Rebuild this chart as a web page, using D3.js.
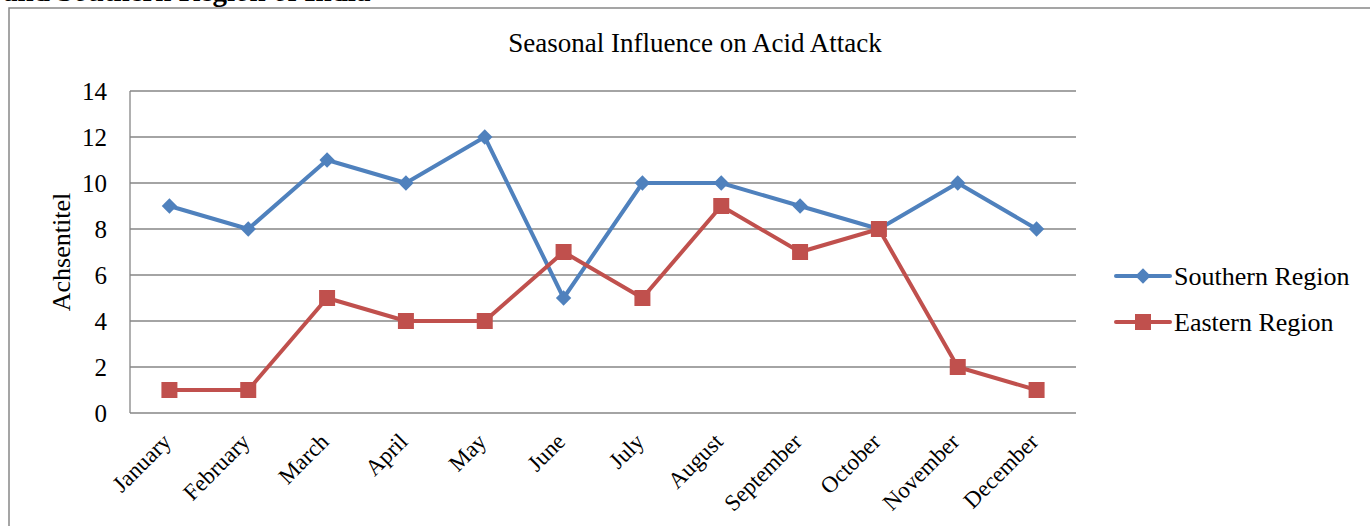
<!DOCTYPE html>
<html><head><meta charset="utf-8">
<script src="https://cdn.jsdelivr.net/npm/d3@7"></script>
<style>body{margin:0;background:#fff}svg{display:block}text{font-family:"Liberation Serif","Times New Roman",serif;fill:#000}</style>
</head><body>
<svg id="c" width="1370" height="526"></svg>
<script>
const months = ["January","February","March","April","May","June","July","August","September","October","November","December"];
const southern = [9,8,11,10,12,5,10,10,9,8,10,8];
const eastern = [1,1,5,4,4,7,5,9,7,8,2,1];
const yTicks = [0,2,4,6,8,10,12,14];
const seriesNames = ["Southern Region","Eastern Region"];
const colors = ["#4F81BD","#C0504D"];

const svg = d3.select("#c");
const L = 130, R = 1076, T = 91, B = 413;

svg.append("text").attr("x",3).attr("y",1).attr("font-size",29).attr("font-weight","bold")
  .text("and Southern Region of India");
svg.append("rect").attr("x",9).attr("y",8).attr("width",1400).attr("height",600)
  .attr("fill","#fff").attr("stroke","#888").attr("stroke-width",1.5);

const x = d3.scaleBand().domain(months).range([L,R]);
const y = d3.scaleLinear().domain([0,14]).range([B,T]);

// gridlines
svg.append("g").selectAll("line").data(yTicks).join("line")
  .attr("x1",L).attr("x2",R).attr("y1",d=>y(d)).attr("y2",d=>y(d))
  .attr("stroke","#868686").attr("stroke-width",1.3);
svg.append("line").attr("x1",L).attr("x2",L).attr("y1",T).attr("y2",B).attr("stroke","#868686").attr("stroke-width",1.3);

const yAxis = svg.append("g").attr("transform",`translate(${L},0)`)
  .call(d3.axisLeft(y).tickValues(yTicks).tickSize(0).tickPadding(23));
yAxis.select(".domain").remove();
yAxis.selectAll("text").attr("font-size",25).attr("font-family","Liberation Serif").attr("fill","#000");

const xAxis = svg.append("g").attr("transform",`translate(0,${B})`)
  .call(d3.axisBottom(x).tickSize(0).tickFormat(""));
xAxis.select(".domain").remove();
svg.append("g").selectAll("text").data(months).join("text")
  .attr("transform",d=>`translate(${x(d)+x.bandwidth()/2+3},${B+30}) rotate(-45)`)
  .attr("text-anchor","end").attr("font-size",23).text(d=>d);

svg.append("text").attr("x",695).attr("y",52).attr("text-anchor","middle").attr("font-size",27)
  .text("Seasonal Influence on Acid Attack");
svg.append("text").attr("transform","translate(70,252) rotate(-90)").attr("text-anchor","middle")
  .attr("font-size",26).text("Achsentitel");

const cx = d=>x(d)+x.bandwidth()/2;
const line = d3.line().x((d,i)=>cx(months[i])).y(d=>y(d));
const diamond = d3.symbol().type(d3.symbolDiamond2).size(150);
const square = d3.symbol().type(d3.symbolSquare).size(256);
[southern, eastern].forEach((data,si)=>{
  svg.append("path").attr("d",line(data)).attr("fill","none").attr("stroke",colors[si]).attr("stroke-width",4).attr("stroke-linejoin","round");
  svg.append("g").selectAll("path").data(data).join("path")
    .attr("transform",(d,i)=>`translate(${cx(months[i])},${y(d)})`)
    .attr("d", si===0 ? diamond() : square()).attr("fill",colors[si]);
});

// legend
const lg = svg.append("g");
seriesNames.forEach((n,i)=>{
  const ly = 276 + i*46;
  lg.append("line").attr("x1",1116).attr("x2",1170).attr("y1",ly).attr("y2",ly).attr("stroke",colors[i]).attr("stroke-width",4).attr("stroke-linecap","round");
  lg.append("path").attr("transform",`translate(1143,${ly})`).attr("d", i===0?diamond():square()).attr("fill",colors[i]);
  lg.append("text").attr("x",1174).attr("y",ly+9).attr("font-size",26).text(n);
});
</script>
</body></html>
